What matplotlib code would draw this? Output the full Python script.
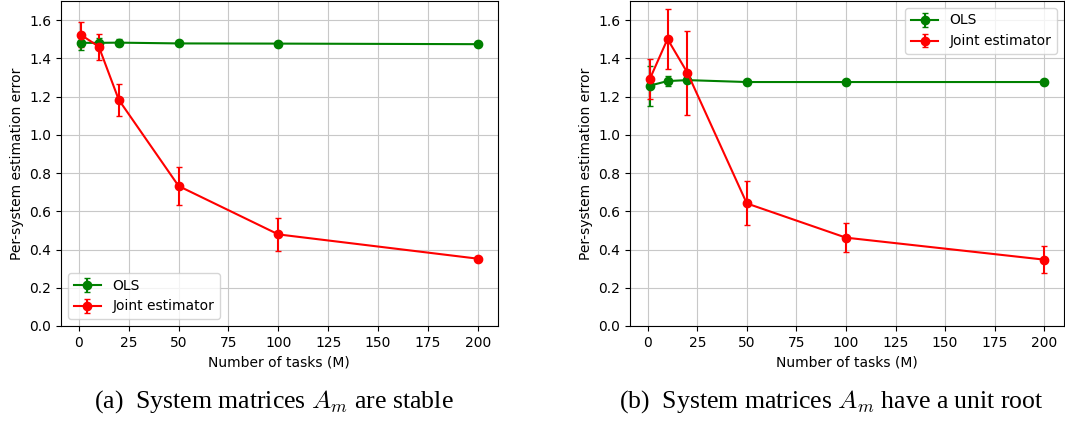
import matplotlib
matplotlib.use("Agg")
import matplotlib.pyplot as plt

plt.rcParams['font.family'] = 'DejaVu Sans'
plt.rcParams['mathtext.fontset'] = 'cm'

# data
tasks = [1, 10, 20, 50, 100, 200]

# (a) stable system matrices
ols_a = [1.481, 1.481, 1.482, 1.478, 1.477, 1.474]
ols_a_err = [0.04, 0.025, 0.02, 0.008, 0.008, 0.008]
joint_a = [1.523, 1.461, 1.183, 0.732, 0.479, 0.352]
joint_a_err = [0.066, 0.068, 0.083, 0.101, 0.085, 0.01]

# (b) unit root system matrices
ols_b = [1.257, 1.281, 1.286, 1.276, 1.276, 1.276]
ols_b_err = [0.105, 0.025, 0.015, 0.008, 0.008, 0.008]
joint_b = [1.290, 1.501, 1.325, 0.641, 0.462, 0.347]
joint_b_err = [0.104, 0.157, 0.22, 0.115, 0.076, 0.07]

captions = [r"(a)  System matrices $A_m$ are stable",
            r"(b)  System matrices $A_m$ have a unit root"]
caption_x = [0.257, 0.781]
legend_locs = ['lower left', 'upper right']

fig = plt.figure(figsize=(10.65, 4.21), dpi=100)
ax_a = fig.add_axes([0.0573, 0.2257, 0.410, 0.772])
ax_b = fig.add_axes([0.5915, 0.2257, 0.4075, 0.772])

panels = [
    (ax_a, ols_a, ols_a_err, joint_a, joint_a_err),
    (ax_b, ols_b, ols_b_err, joint_b, joint_b_err),
]

for i, (ax, ols, ols_err, joint, joint_err) in enumerate(panels):
    ax.errorbar(tasks, ols, yerr=ols_err, color='green', marker='o',
                markersize=6, linewidth=1.5, capsize=2.5, label='OLS')
    ax.errorbar(tasks, joint, yerr=joint_err, color='red', marker='o',
                markersize=6, linewidth=1.5, capsize=2.5, label='Joint estimator')
    ax.set_ylim(0, 1.7)
    ax.set_xticks([0, 25, 50, 75, 100, 125, 150, 175, 200])
    ax.set_yticks([0.0, 0.2, 0.4, 0.6, 0.8, 1.0, 1.2, 1.4, 1.6])
    ax.grid(True, color='#c8c8c8', linewidth=0.8)
    ax.set_axisbelow(True)
    ax.tick_params(labelsize=10)
    ax.set_xlabel("Number of tasks (M)", fontsize=10)
    ax.set_ylabel("Per-system estimation error", fontsize=10)
    ax.legend(loc=legend_locs[i], fontsize=10)

    # subfigure caption below each panel
    fig.text(caption_x[i], 0.045, captions[i],
             family='Liberation Serif', fontsize=18.5, ha='center', va='center')

fig.savefig('out.png', dpi=100)
